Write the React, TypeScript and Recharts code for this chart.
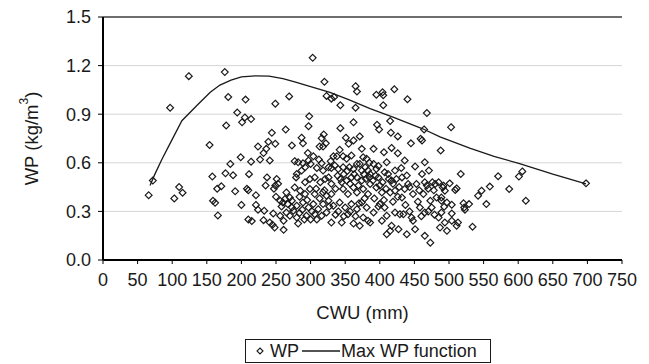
import React from "react"
import { ComposedChart, XAxis, YAxis, CartesianGrid, Scatter, Line, ReferenceLine } from "recharts"

const cwuTicks = [0, 50, 100, 150, 200, 250, 300, 350, 400, 450, 500, 550, 600, 650, 700, 750]
const wpTicks = [0, 0.3, 0.6, 0.9, 1.2, 1.5]

// Max WP function (upper envelope)
const maxCwu = [68, 75, 85, 97, 114, 136, 155, 169, 185, 200, 220, 240, 260, 277, 300, 328, 355, 386, 420, 462, 487, 530, 565, 602, 650, 698]
const maxWp = [0.46, 0.53, 0.62, 0.72, 0.86, 0.955, 1.035, 1.08, 1.11, 1.13, 1.137, 1.135, 1.12, 1.1, 1.07, 1.035, 0.99, 0.935, 0.88, 0.81, 0.76, 0.69, 0.64, 0.595, 0.53, 0.47]

// observed WP, [CWU mm, WP kg/m3]
const wpPoints: [number, number][] = [
  [66, 0.4], [72, 0.49], [97, 0.94], [124, 1.135], [103, 0.38], [110, 0.45], [115, 0.415],
  [154, 0.71], [158, 0.515], [165, 0.44], [159, 0.366], [162, 0.353], [166, 0.275],
  [176, 1.16], [181, 1.006], [206, 0.99], [249, 0.965], [269, 1.01], [194, 0.91], [205, 0.88],
  [201, 0.85], [214, 0.87], [178, 0.83], [244, 0.785], [264, 0.805], [239, 0.73], [224, 0.7],
  [236, 0.686], [232, 0.66], [227, 0.62], [241, 0.614], [249, 0.717], [273, 0.707], [199, 0.634],
  [184, 0.593], [214, 0.607], [177, 0.535], [188, 0.523], [211, 0.53], [171, 0.455], [191, 0.424],
  [208, 0.44], [210, 0.43], [237, 0.51], [235, 0.46], [251, 0.5], [249, 0.46], [253, 0.47],
  [247, 0.44], [221, 0.4], [265, 0.417], [270, 0.386], [263, 0.376], [250, 0.39], [256, 0.366],
  [260, 0.355], [200, 0.34], [221, 0.34], [224, 0.31], [233, 0.304], [210, 0.25], [215, 0.24],
  [232, 0.246], [241, 0.231], [245, 0.217], [248, 0.2], [246, 0.287], [256, 0.273], [261, 0.242],
  [265, 0.293], [270, 0.273], [275, 0.304], [261, 0.186], [258, 0.33], [267, 0.345], [273, 0.324],
  [303, 1.248], [320, 1.1], [323, 1.013], [330, 0.996], [334, 1.006], [343, 0.955], [365, 1.073],
  [367, 1.04], [365, 0.94], [298, 0.887], [297, 0.826], [343, 0.814], [362, 0.85], [287, 0.755],
  [289, 0.72], [316, 0.752], [319, 0.775], [322, 0.72], [313, 0.7], [318, 0.7], [351, 0.755],
  [362, 0.738], [371, 0.763], [355, 0.717], [333, 0.64], [338, 0.64], [347, 0.64], [352, 0.625],
  [359, 0.645], [374, 0.686], [376, 0.634], [381, 0.625],
  [277, 0.61], [282, 0.603], [289, 0.597], [297, 0.614], [304, 0.64], [300, 0.593], [292, 0.572],
  [287, 0.552], [280, 0.531], [279, 0.51],
  [309, 0.568], [316, 0.597], [318, 0.552], [326, 0.572], [330, 0.568], [335, 0.583], [340, 0.562],
  [347, 0.572], [356, 0.572], [362, 0.562], [367, 0.593], [371, 0.593], [374, 0.552], [379, 0.572],
  [383, 0.552],
  [292, 0.48], [299, 0.5], [306, 0.51], [314, 0.48], [321, 0.5], [326, 0.51], [330, 0.47],
  [345, 0.48], [352, 0.49], [359, 0.51], [367, 0.51], [374, 0.49], [380, 0.5],
  [277, 0.448], [285, 0.428], [292, 0.407], [299, 0.438], [306, 0.407], [318, 0.417], [323, 0.397],
  [330, 0.407], [347, 0.438], [354, 0.407], [362, 0.448], [367, 0.417], [376, 0.438], [383, 0.407],
  [273, 0.366], [280, 0.335], [289, 0.355], [297, 0.324], [304, 0.345], [311, 0.314], [318, 0.345],
  [326, 0.366], [333, 0.335], [342, 0.355], [350, 0.324], [359, 0.345], [367, 0.314], [374, 0.355],
  [381, 0.324],
  [280, 0.262], [282, 0.225], [294, 0.273], [306, 0.283], [316, 0.273], [323, 0.293], [330, 0.231],
  [345, 0.231], [354, 0.283], [362, 0.225], [371, 0.211], [376, 0.262], [383, 0.242],
  [395, 1.02], [404, 1.035], [405, 1.017], [421, 1.054], [440, 0.992], [405, 0.955], [468, 0.907],
  [415, 0.858], [396, 0.835], [399, 0.806], [464, 0.806], [416, 0.786], [426, 0.763], [445, 0.72],
  [459, 0.748], [461, 0.738], [488, 0.676], [391, 0.686], [406, 0.665], [417, 0.692], [426, 0.659],
  [436, 0.614], [451, 0.577], [465, 0.603], [471, 0.552], [431, 0.568],
  [391, 0.593], [395, 0.562], [386, 0.531], [398, 0.51], [407, 0.541], [410, 0.603], [412, 0.531],
  [417, 0.49], [422, 0.552],
  [432, 0.51], [439, 0.521], [441, 0.469], [453, 0.469], [461, 0.531], [465, 0.48], [480, 0.469],
  [485, 0.48], [491, 0.448],
  [386, 0.469], [395, 0.448], [403, 0.417], [415, 0.417], [422, 0.428], [432, 0.386], [436, 0.438],
  [448, 0.407], [463, 0.407], [473, 0.366], [482, 0.386], [489, 0.366],
  [391, 0.293], [400, 0.345], [407, 0.324], [410, 0.273], [422, 0.293], [429, 0.283], [434, 0.283],
  [446, 0.262], [458, 0.324], [465, 0.293], [475, 0.324], [485, 0.262],
  [386, 0.231], [403, 0.242], [417, 0.211], [415, 0.18], [410, 0.159], [427, 0.19], [439, 0.159],
  [448, 0.242], [451, 0.19], [465, 0.149], [473, 0.107], [487, 0.2],
  [503, 0.82], [517, 0.531], [501, 0.473], [511, 0.442], [509, 0.432], [492, 0.459], [494, 0.428],
  [489, 0.386], [497, 0.355], [504, 0.341], [493, 0.329], [521, 0.35], [529, 0.345], [523, 0.31],
  [522, 0.324], [489, 0.293], [504, 0.287], [494, 0.231], [497, 0.18], [504, 0.242], [513, 0.231],
  [511, 0.211], [534, 0.205], [542, 0.397], [547, 0.428], [559, 0.453], [571, 0.517], [554, 0.345],
  [587, 0.438], [601, 0.515], [606, 0.547], [611, 0.366], [698, 0.473],
  // denser core of the cloud
  [284, 0.39], [288, 0.31], [295, 0.37], [302, 0.3], [308, 0.44], [313, 0.38], [320, 0.43],
  [327, 0.33], [336, 0.44], [339, 0.52], [343, 0.5], [348, 0.53], [353, 0.55], [357, 0.47],
  [363, 0.53], [369, 0.46], [377, 0.53], [385, 0.51], [390, 0.49], [394, 0.52], [400, 0.46],
  [404, 0.48], [409, 0.44], [413, 0.5], [419, 0.47], [424, 0.5], [428, 0.45], [468, 0.46],
  [470, 0.44], [476, 0.48], [478, 0.43], [284, 0.29], [291, 0.25], [300, 0.25], [309, 0.25],
  [336, 0.28], [340, 0.3], [348, 0.27], [357, 0.3], [365, 0.27], [370, 0.35], [378, 0.38],
  [392, 0.38], [398, 0.33], [406, 0.37], [419, 0.36], [426, 0.39], [437, 0.34], [443, 0.3],
  [455, 0.36], [460, 0.27], [470, 0.3], [479, 0.28], [342, 0.68], [329, 0.61], [312, 0.62],
  [296, 0.66], [385, 0.6], [398, 0.58], [443, 0.45], [457, 0.43],
]

const scatterData = wpPoints.map(([x, y]) => ({ x, y }))
const lineData = maxCwu.map((x, i) => ({ x, y: maxWp[i] }))

const FONT = "Arial, 'Liberation Sans', sans-serif"
const INK = "#1a1a1a"

function Diamond(props: any) {
  const { cx, cy } = props
  if (cx == null || cy == null) return null
  const r = 3.4
  return (
    <path d={`M${cx},${cy - r}L${cx + r},${cy}L${cx},${cy + r}L${cx - r},${cy}Z`}
      fill="none" stroke={INK} strokeWidth={1.2} />
  )
}

function YLabel(props: any) {
  const vb = props.viewBox || { x: 0, y: 0, width: 0, height: 0 }
  const x = vb.x + 31
  const y = vb.y + vb.height / 2
  return (
    <text x={x} y={y} transform={`rotate(-90 ${x} ${y})`} textAnchor="middle"
      dominantBaseline="central" fontSize={18.5} fill={INK} fontFamily={FONT}>
      WP (kg/m<tspan dy={-7} fontSize={12}>3</tspan><tspan dy={7}>)</tspan>
    </text>
  )
}

function LegendBox() {
  return (
    <svg width={247} height={25} style={{ position: "absolute", left: 245, top: 339 }}>
      <rect x={0.5} y={0.5} width={245} height={23} fill="#fff" stroke={INK} strokeWidth={1} />
      <path d="M15,9L18,12L15,15L12,12Z" fill="none" stroke={INK} strokeWidth={1.1} />
      <text x={25} y={18} fontSize={18} fill={INK} fontFamily={FONT}>WP</text>
      <line x1={57} x2={95} y1={12} y2={12} stroke={INK} strokeWidth={1.3} />
      <text x={96} y={18} fontSize={18} fill={INK} fontFamily={FONT}>Max WP function</text>
    </svg>
  )
}

export default function App() {
  return (
    <div style={{ position: "absolute", left: 0, top: 0, width: 649, height: 364, background: "#fff", fontFamily: FONT }}>
      <ComposedChart width={649} height={364} margin={{ top: 17, right: 27, bottom: 0, left: 0 }}
        style={{ fontFamily: FONT }}>
        <CartesianGrid vertical={false} stroke="#d6d6d6" />
        <XAxis type="number" dataKey="x" domain={[0, 750]} ticks={cwuTicks} interval={0}
          height={104} tickSize={4} tickMargin={9}
          axisLine={{ stroke: "#000", strokeWidth: 2 }} tickLine={{ stroke: "#000" }}
          tick={{ fill: INK, fontSize: 18 }}
          label={{ value: "CWU (mm)", position: "insideTop", offset: 46, fill: INK, fontSize: 18.5 }} />
        <YAxis type="number" dataKey="y" domain={[0, 1.5]} ticks={wpTicks} interval={0} width={103}
          tickSize={5} tickMargin={7} tickFormatter={(v: number) => v.toFixed(1)}
          axisLine={{ stroke: "#000", strokeWidth: 2 }} tickLine={{ stroke: "#000" }}
          tick={{ fill: INK, fontSize: 18 }}
          label={{ content: (p: any) => <YLabel {...p} /> }} />
        <YAxis yAxisId="right" orientation="right" type="number" domain={[0, 1.5]} width={0}
          tick={false} tickLine={false} axisLine={{ stroke: "#555", strokeWidth: 1.5 }} />
        <ReferenceLine y={1.5} stroke="#444" strokeWidth={1.5} ifOverflow="visible" />
        <Scatter data={scatterData} dataKey="y" shape={(p: any) => <Diamond {...p} />} isAnimationActive={false} />
        <Line data={lineData} dataKey="y" type="linear" stroke={INK} strokeWidth={1.3} dot={false}
          activeDot={false} isAnimationActive={false} />
      </ComposedChart>
      <LegendBox />
    </div>
  )
}
